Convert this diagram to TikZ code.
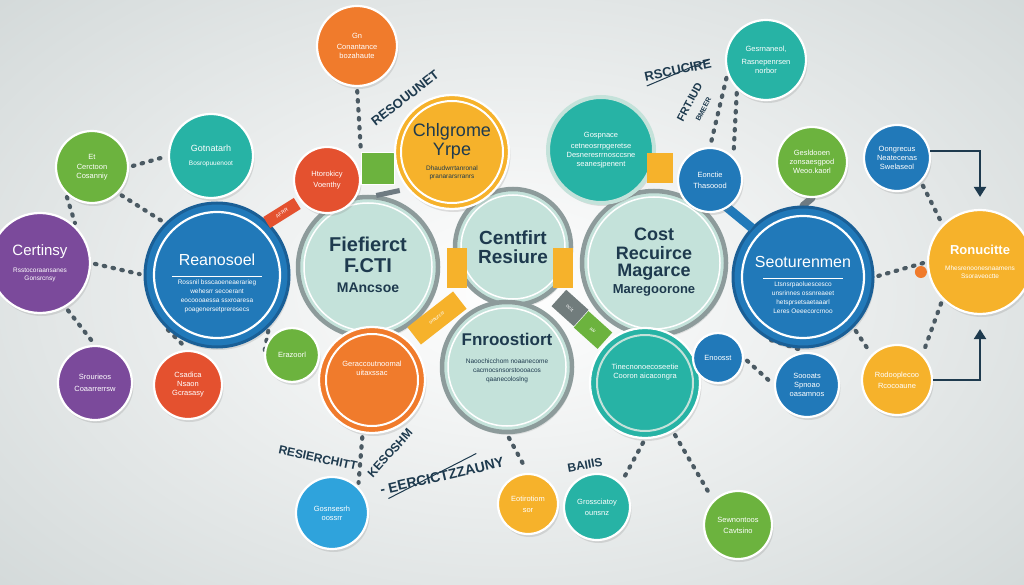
\documentclass[tikz,border=0pt]{standalone}
\usepackage{fontspec}
\setmainfont{Liberation Sans}
\usetikzlibrary{shadows,arrows.meta,calc}
\definecolor{cOrange}{HTML}{F07B2C}
\definecolor{cRed}{HTML}{E4512F}
\definecolor{cYellow}{HTML}{F6B22B}
\definecolor{cGreen}{HTML}{6CB33E}
\definecolor{cTeal}{HTML}{27B3A5}
\definecolor{cBlue}{HTML}{2179B9}
\definecolor{cBlueD}{HTML}{1A5F96}
\definecolor{cBlueL}{HTML}{2FA3DC}
\definecolor{cPurple}{HTML}{7B4A9B}
\definecolor{cPale}{HTML}{C4E2DA}
\definecolor{cRing}{HTML}{8D9B9B}
\definecolor{cNavy}{HTML}{1E3A4E}
\definecolor{cDot}{HTML}{4B5A63}
\definecolor{cBg}{HTML}{D3D9D9}
\newcommand\tlines[3]{{\fontsize{#1}{#2}\selectfont\begin{tabular}{@{}c@{}}#3\end{tabular}}}
\pgfdeclarelayer{back}
\pgfdeclarelayer{conn}
\pgfsetlayers{back,conn,main}
\tikzset{
 bub/.style={circle, inner sep=0pt, align=center, text=white, font=\fontsize{7.5}{9}\selectfont,
   draw=white, line width=2.2pt, drop shadow={shadow xshift=1.5pt, shadow yshift=-3pt, opacity=0.22}},
 pale/.style={circle, inner sep=0pt, align=center, text=cNavy, fill=cPale, draw=cRing, line width=4.5pt,
   font=\bfseries\fontsize{19}{19}\selectfont, drop shadow={shadow xshift=1.5pt, shadow yshift=-3pt, opacity=0.18}},
 dotc/.style={draw=cDot, line width=4.2pt, line cap=round, dash pattern=on 1.5pt off 7.5pt, shorten <=4pt, shorten >=4pt},
 arr/.style={draw=cNavy, line width=2.2pt, -{Triangle[width=12pt,length=10pt]}},
 lbl/.style={text=cNavy, font=\bfseries\fontsize{13}{14}\selectfont, inner sep=1pt},
 tabbox/.style={inner sep=0pt, font=\fontsize{5}{6}\selectfont, text=white},
 txt/.style={align=center, inner sep=0pt}
}
\begin{document}
\begin{tikzpicture}[x=1pt,y=-1pt]
\useasboundingbox (0,0) rectangle (1024,585);
\begin{pgfonlayer}{back}
\shade[inner color=white, outer color=cBg] (-200,-150) rectangle (1224,735);
\end{pgfonlayer}

% ---- small outer bubbles
\node[bub, fill=cOrange, minimum size=80pt] (gn) at (357,46) {Gn\\[2pt]Conantance\\bozahaute};
\node[bub, fill=cGreen, minimum size=72pt] (etc) at (92,167) {Et\\[1pt]Cerctoon\\Cosanniy};
\node[bub, fill=cTeal, minimum size=84pt] (gotn) at (211,156) {\tlines{9}{11}{Gotnatarh}\\[5pt]\tlines{6.5}{8}{Bosropuuenoot}};
\node[bub, fill=cPurple, minimum size=100pt] (cert) at (40,263) {\tlines{15}{17}{Certinsy}\\[5pt]\tlines{6.5}{8}{Rsstocoraansanes\\Gonsrcnsy}};
\node[bub, fill=cPurple, minimum size=74pt] (srou) at (95,383) {Srourieos\\[3pt]Coaarrerrsw};
\node[bub, fill=cRed, minimum size=68pt] (csad) at (188,385) {Csadica\\Nsaon\\Gcrasasy};
\node[bub, fill=cBlueL, minimum size=72pt] (gosn) at (332,513) {Gosnsesrh\\oossrr};
\node[bub, fill=cYellow, minimum size=60pt] (eoti) at (528,504) {Eotirotiom\\[2pt]sor};
\node[bub, fill=cTeal, minimum size=66pt] (gros) at (597,507) {Grossciatoy\\[2pt]ounsnz};
\node[bub, fill=cGreen, minimum size=68pt] (sewn) at (738,525) {Sewnontoos\\[2pt]Cavtsino};
\node[bub, fill=cBlue, minimum size=64pt] (sooo) at (807,385) {Soooats\\Spnoao\\oasamnos};
\node[bub, fill=cYellow, minimum size=70pt] (rodo) at (897,380) {Rodooplecoo\\[2pt]Rcocoaune};
\node[bub, fill=cTeal, minimum size=80pt] (gesr) at (766,60) {Gesrnaneol,\\[4pt]Rasnepenrsen\\norbor};
\node[bub, fill=cGreen, minimum size=70pt] (gesl) at (812,162) {Gesldooen\\zonsaesgpod\\Weoo.kaorl};
\node[bub, fill=cBlue, minimum size=66pt] (oong) at (897,158) {Oongrecus\\Neatecenas\\Swelaseol};
\node[bub, fill=cYellow, minimum size=104pt] (ronu) at (980,262) {\tlines{13}{15}{\bfseries Ronucitte}\\[5pt]\tlines{6.5}{8}{Mhesrenoonesnaamens\\Ssoraveoctte}};

% ---- big blue circles
\node[bub, fill=cBlue, draw=cBlueD, line width=3pt, minimum size=144pt] (rean) at (217,275) {};
\draw[white, line width=2.2pt] (rean.center) circle[radius=63pt];
\node[txt, text=white] (reanT) at (217,284) {\tlines{16}{18}{Reanosoel}\\[-2pt]\rule{90pt}{0.6pt}\\[1pt]\tlines{6.5}{9}{Rossnil bsscaoeneaerarieg\\wehesrr secoerant\\eocoooaessa ssxroaresa\\poagenersetpreresecs}};
\node[bub, fill=cBlue, draw=cBlueD, line width=3pt, minimum size=140pt] (seot) at (803,277) {};
\draw[white, line width=2.2pt] (seot.center) circle[radius=61pt];
\node[txt, text=white] (seotT) at (803,286) {\tlines{16}{18}{Seoturenmen}\\[-2pt]\rule{80pt}{0.6pt}\\[1pt]\tlines{6.5}{9}{Ltsnsrpaoluescesco\\unsrinnes ossnreaeet\\hetsprsetsaetaaarl\\Leres Oeeecorcrnoo}};

% ---- pale central circles
\node[pale, minimum size=116pt] (cent) at (513,247) {Centfirt\\Resiure};
\node[pale, minimum size=140pt] (fief) at (368,267) {\tlines{20}{21}{Fiefierct\\F.CTI}\\[2pt]\tlines{14}{16}{MAncsoe}};
\node[pale, minimum size=144pt] (cost) at (654,263) {\tlines{18}{17}{Cost\\Recuirce\\Magarce}\\\tlines{13}{15}{Maregoorone}};
\node[pale, minimum size=130pt] (fnro) at (507,367) {};
\node[txt, text=cNavy] (fnroT) at (507,358) {\tlines{17}{19}{\bfseries Fnroostiort}\\[5pt]\tlines{6.5}{9}{Naoochicchom noaanecome\\cacmocsnsorstoooacos\\qaanecoloslng}};
\foreach \n/\r in {cent/52,fief/64,cost/66,fnro/59}
  \draw[white, line width=1.5pt] (\n.center) circle[radius=\r pt];

% ---- tabs
\node[tabbox, fill=cYellow, minimum width=20pt, minimum height=40pt] (tabYL) at (457,268) {};
\node[tabbox, fill=cYellow, minimum width=20pt, minimum height=40pt] (tabYR) at (563,268) {};
\node[tabbox, fill=cYellow, minimum width=58pt, minimum height=22pt, rotate=38] (tabYD) at (437,318) {oraurccr};
\node[tabbox, fill=cRing!80!black, minimum width=30pt, minimum height=22pt, rotate=-42] (tabG1) at (570,308) {ocit};
\node[tabbox, fill=cGreen, minimum width=32pt, minimum height=22pt, rotate=-42] (tabG2) at (593,330) {aiv};
\node[tabbox, fill=cRed, minimum width=36pt, minimum height=13pt, rotate=32] (tabR) at (282,213) {AFRR};
\node[fill=cDot!80, minimum width=24pt, minimum height=5pt, inner sep=0pt, rotate=12] (tabS) at (388,193) {};
\draw[cBlue, line width=9pt] (724,205) -- (752,228);

% ---- mid bubbles over the pale ones
\node[bub, fill=cRed, minimum size=66pt] (htor) at (327,180) {Htorokicy\\[2pt]Voenthy};
\node[fill=cGreen, minimum width=33pt, minimum height=32pt, inner sep=0pt, draw=white, line width=1pt] (grsq) at (378,169) {};
\node[bub, fill=cYellow, minimum size=114pt, text=cNavy] (chl) at (452,152) {\tlines{18}{19}{Chlgrome\\Yrpe}\\[3pt]\tlines{6.5}{8}{Dhaudwrrtanronal\\pranararsrranrs}};
\draw[white, line width=2pt] (chl.center) circle[radius=51pt];
\node[bub, fill=cTeal, draw=cPale, line width=4pt, minimum size=106pt] (gosp) at (601,150) {Gospnace\\[2pt]cetneosrrpgeretse\\Desneresrrnosccsne\\seanesjpenent};
\node[fill=cYellow, minimum width=26pt, minimum height=30pt, inner sep=0pt] (yesq) at (660,168) {};
\node[bub, fill=cBlue, minimum size=64pt] (eonc) at (710,180) {Eonctie\\[2pt]Thasoood};
\node[bub, fill=cOrange, minimum size=106pt] (orng) at (372,380) {};
\draw[white, line width=2pt] (orng.center) circle[radius=46pt];
\node[txt, text=white, font=\fontsize{7.5}{9}\selectfont] (orngT) at (372,368) {Geraccoutnoomal\\uitaxssac};
\node[bub, fill=cTeal, minimum size=110pt] (tealb) at (645,383) {};
\draw[cPale, line width=2pt] (tealb.center) circle[radius=48pt];
\node[txt, text=white, font=\fontsize{7.5}{9}\selectfont] (tealbT) at (645,372) {Tinecnonoecoseetie\\Cooron aicacongra};
\node[bub, fill=cGreen, minimum size=54pt] (erz) at (292,355) {Erazoorl};
\node[bub, fill=cBlue, minimum size=50pt] (enoo) at (718,358) {Enoosst};

% ---- connectors
\begin{pgfonlayer}{conn}
\draw[dotc] (gn.south) -- (grsq.north west);
\draw[dotc] (etc.east) -- (gotn.west);
\draw[dotc] (etc.south east) -- (rean.north west);
\draw[dotc] (etc.south west) -- (cert.north east);
\draw[dotc] (cert.east) -- (rean.west);
\draw[dotc] (cert.-60) -- (srou.north);
\draw[dotc] (rean.south west) -- (csad.north);
\draw[dotc] (rean.-45) -- (erz.west);
\draw[dotc] (orng.-100) -- (gosn.north east);
\draw[dotc] (fnro.south) -- (eoti.north);
\draw[dotc] (tealb.south) -- (gros.north east);
\draw[dotc] (tealb.-60) -- (sewn.north west);
\draw[dotc] (enoo.east) -- (sooo.west);
\draw[dotc] (seot.-120) -- (sooo.north);
\draw[dotc] (seot.south east) -- (rodo.north west);
\draw[dotc] (ronu.south west) -- (rodo.north east);
\draw[dotc] (oong.south east) -- (ronu.north west);
\draw[dotc] (seot.east) -- (ronu.west);
\draw[dotc] (gesr.-135) -- (eonc.north east);
\draw[dotc] (gesr.-160) -- (eonc.north);
\draw[cDot!80, line width=7pt, line cap=round] (gesl.south) -- (seot.north);
\end{pgfonlayer}
\coordinate (odot) at ($(ronu.west)+(-6,10)$);
\fill[cOrange] (odot) circle[radius=6pt];

% ---- bracket arrows
\draw[arr] (oong.12) -| ([yshift=12pt]ronu.north);
\draw[arr] (rodo.east) -| ([yshift=-14pt]ronu.south);

% ---- rotated labels
\node[lbl, rotate=38] (l1) at (405,98) {RESOUUNET};
\node[lbl, rotate=12] (l2) at (678,70) {RSCUCIRE};
\draw[cNavy, line width=1pt] ($(l2.south west)+(2,3)$) -- ($(l2.south east)+(-4,-9)$);
\node[lbl, rotate=62, align=center] (l3) at (697,106) {\tlines{11}{10}{FRT.IUD}\\\tlines{7}{8}{BMEER}};
\node[lbl, rotate=-12, font=\bfseries\fontsize{12}{13}\selectfont] (l4) at (318,458) {RESIERCHITT};
\node[lbl, rotate=48, font=\bfseries\fontsize{12}{13}\selectfont] (l5) at (390,453) {KESOSHM};
\node[lbl, rotate=13, font=\bfseries\fontsize{14}{15}\selectfont] (l6) at (442,476) {- EERCICTZZAUNY};
\draw[cNavy, line width=1pt] ($(l6.south west)+(8,2)$) -- ($(l6.south east)+(-30,-14)$);
\node[lbl, rotate=10, font=\bfseries\fontsize{12}{13}\selectfont] (l7) at (585,465) {BAIIIS};
\end{tikzpicture}
\end{document}
